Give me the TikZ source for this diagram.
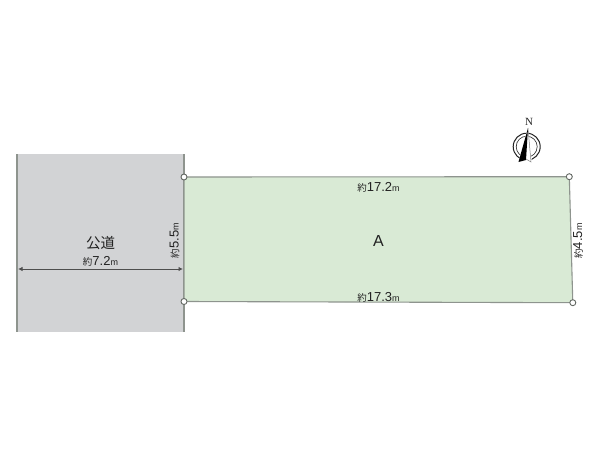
\documentclass[tikz,border=0pt]{standalone}
\usepackage{fontspec}
\setmainfont{Liberation Sans}
\newfontfamily\cjk{Noto Sans CJK JP}
\newfontfamily\serifn{Liberation Serif}
\usetikzlibrary{arrows.meta}
\definecolor{lotgreen}{HTML}{D9EAD5}
\definecolor{roadgray}{HTML}{D2D3D5}
\definecolor{edgegray}{HTML}{8E948E}
\definecolor{inkdark}{HTML}{222222}
\tikzset{
  x=1pt,y=-1pt,
  vertex/.style={circle,draw=edgegray!70!black,fill=white,line width=0.9pt,minimum size=6pt,inner sep=0pt},
  dimlabel/.style={inner sep=0pt,text=inkdark},
  roadside/.style={draw=edgegray,line width=1.5pt},
  dimline/.style={draw=inkdark!80,line width=0.9pt,{Latex[length=4.5pt,width=4.5pt]}-{Latex[length=4.5pt,width=4.5pt]}}
}
\newcommand{\dimtext}[1]{{\cjk\fontsize{9.5}{10}\selectfont 約}{\fontsize{13}{13}\selectfont #1}{\fontsize{9}{9}\selectfont m}}
\begin{document}
\begin{tikzpicture}
\useasboundingbox (0,0) rectangle (600,450);
\fill[roadgray] (17,154) rectangle (184,332);
\coordinate (rtl) at (17,154);
\coordinate (rbl) at (17,332);
\coordinate (rtr) at (184,154);
\coordinate (rbr) at (184,332);
\draw[roadside] (rtl) -- (rbl);
\draw[roadside] (rtr) -- (rbr);
\coordinate (a) at (184,177);
\coordinate (b) at (569.3,176.7);
\coordinate (c) at (572.8,302.7);
\coordinate (d) at (184,301.5);
\draw[fill=lotgreen,draw=edgegray,line width=1.1pt] (a) -- (b) -- (c) -- (d) -- cycle;
\node[vertex] (va) at (a) {};
\node[vertex] (vb) at (b) {};
\node[vertex] (vc) at (c) {};
\node[vertex] (vd) at (d) {};
\coordinate (arl) at (18,269);
\coordinate (arr) at (183,269);
\draw[dimline] (arl) -- (arr);
\node[dimlabel] (road) at (100.5,243) {\cjk\fontsize{14.5}{15}\selectfont 公道};
\node[dimlabel] (w) at (100.5,261.5) {\dimtext{7.2}};
\node[dimlabel,rotate=90] (h1) at (174.5,240.5) {\dimtext{5.5}};
\node[dimlabel] (t) at (378.5,187) {\dimtext{17.2}};
\node[dimlabel] (bm) at (378.5,297) {\dimtext{17.3}};
\node[dimlabel,rotate=90] (h2) at (578,241) {\dimtext{4.5}};
\node[dimlabel] (lot) at (378.5,240.5) {\fontsize{16}{16}\selectfont A};
% north mark
\draw[inkdark,line width=1pt] (526.7,146.7) circle (13.5);
\draw[inkdark,line width=0.6pt] (526.7,146.7) circle (10.5);
\fill[white] (518.5,162) -- (527.5,128) -- (532,162) -- cycle;
\fill[black] (518.5,162) -- (528,128) -- (526,160) -- cycle;
\draw[gray,line width=0.5pt] (528,128) -- (531,162) -- (526,159);
\node[inner sep=0pt,text=inkdark] (north) at (529,122) {\serifn\fontsize{11}{11}\selectfont N};
\end{tikzpicture}
\end{document}
